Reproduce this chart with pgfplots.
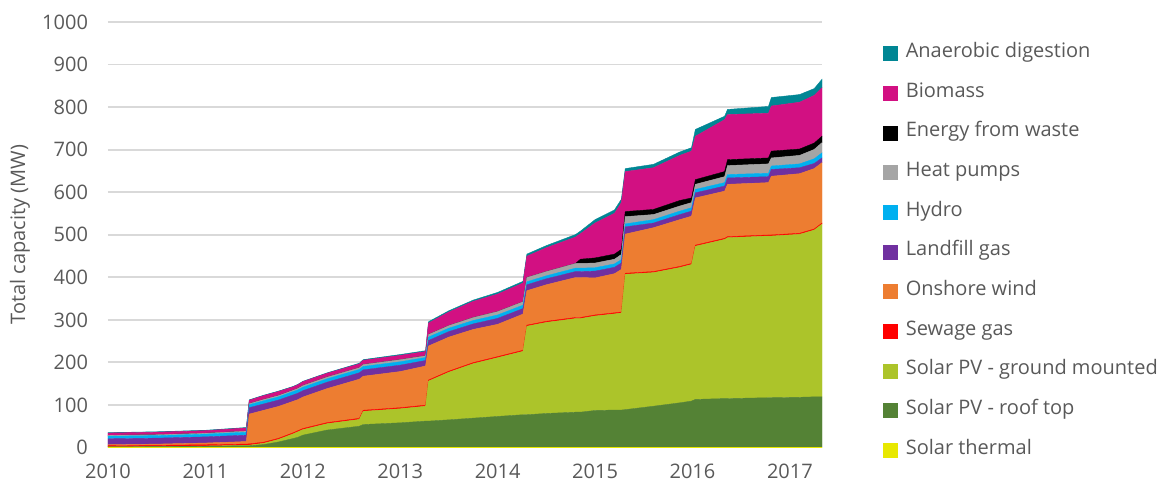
\documentclass[border=0pt]{standalone}
\usepackage{fontspec}
\setmainfont{Open Sans}
\usepackage{pgfplots}
\pgfplotsset{compat=1.18}
\usepackage{pgfplotstable}

\definecolor{cAD}{RGB}{0,134,148}
\definecolor{cBio}{RGB}{210,16,130}
\definecolor{cEfW}{RGB}{0,0,0}
\definecolor{cHeat}{RGB}{165,165,165}
\definecolor{cHydro}{RGB}{0,176,240}
\definecolor{cLand}{RGB}{112,48,160}
\definecolor{cWind}{RGB}{237,125,49}
\definecolor{cSew}{RGB}{255,0,0}
\definecolor{cGround}{RGB}{172,196,42}
\definecolor{cRoof}{RGB}{84,130,53}
\definecolor{cST}{RGB}{232,232,0}
\definecolor{txtgray}{RGB}{89,89,89}
\definecolor{gridgray}{RGB}{217,217,217}

\pgfplotstableread{
t st roof ground sew wind land hydro heat efw bio ad
2010.00 1 0.5 0 3 2 14 6 2 0 5.5 1
2010.50 1 1 0 3 3 14 6 2 0 6 1
2011.00 1 2 0.5 3 4 14.5 6.5 2 0 6 1
2011.42 1 3 1 3 6 15 7 2.5 0 7.5 1
2011.45 1 3 1.5 3 70 15 7 2.5 0 8 1
2011.60 1 6 3 2.5 75 15 7.5 3 0 9 1
2011.75 1 12 6 2.5 75 15 7.5 3 0 9.5 1
2011.90 1 20 11 2.5 74 15 8 3 0 8 1
2011.95 1 23 13 2.5 73 15 8 3.5 0 8.5 1
2012.00 1 28 13 2.5 74 15 8 4 0 9 1
2012.25 1 40 15 2.5 80 15 8 4 0 9 1
2012.58 1 49 16 2.5 92 15 8 4 0 9 1.5
2012.62 1 53 31 2.5 80 15 8 4.5 0 10 1.5
2013.00 1 57 33 2.5 85 15 8 5 0 10 2
2013.26 1 61 35 2.5 92 13 7 4 0 10 2
2013.29 1 61 94 2.5 80 13 8 6 0 27 3
2013.50 1 64 112 2.5 80 13 8 6 0 32 3
2013.75 1 68 128 2.5 78 13 8 7 0 38 3
2014.00 1 72 138 2.5 76 14 8 8 0 41 4
2014.26 1 76 149 2.5 85 13 8 8 0 44 4
2014.30 1 76 208 2.5 81 14 7 10 0 50 5
2014.50 1 79 214 2.5 86 14 7 10 0 56 5
2014.80 1 82 220 2.5 94 14 8 11 0 62 6
2014.85 1 82 220 2.5 94 14 8 11 10 60 6
2015.00 1 86 222 2.5 87 16 8 11 12 82 8
2015.20 1 87 226 2.5 92 15 8 11 12 96 8
2015.27 1 87 228 2.5 100 15 8 12 12 110 8
2015.31 1 88 318 2.5 92 17 7 17 12 94 7
2015.60 1 96 314 2.5 103 11 8 12 12 98 8
2015.87 1 104 318 2.5 110 12 8 12 13 106 8
2015.99 1 108 321 2.5 111 12 8 12 11 110 8
2016.03 1 112 360 2.5 111 12 8 12 11 102 16
2016.33 1 114 374 2.5 111 12 8 14 12 122 8
2016.36 1 114 378 2.5 123 15 8 21 14 106 12
2016.78 1 116 380 2.5 123 14 8 22 14 105 16
2016.81 1 116 380 2.5 138 16 8 19 16 106 20
2017.10 1 117 383 2.5 140 14 9 20 15 110 18
2017.25 1 118 392 2.5 142 12 11 22 15 112 16
2017.33 1 118 406 2.5 142 11 12 24 15 114 20
}\data

\begin{document}
\begin{tikzpicture}
\path[use as bounding box] (-54pt,-19.75pt) rectangle (527pt,223.75pt);
\begin{axis}[
  at={(0,0)}, anchor=south west,
  scale only axis, width=357pt, height=212.75pt,
  xmin=2010, xmax=2017.33, ymin=0, ymax=1000,
  stack plots=y,
  axis line style={draw=none},
  major tick length=0pt,
  ymajorgrids, grid style={color=gridgray, line width=0.9pt},
  xtick={2010,2011,...,2017}, ytick={0,100,...,1000},
  /pgf/number format/1000 sep={},
  /pgf/number format/assume math mode=true,
  tick label style={font=\fontsize{10}{12}\selectfont, text=txtgray},
  yticklabel style={xshift=-6.5pt},
  xticklabel style={yshift=-4.5pt},
  ylabel={Total capacity (MW)},
  every axis y label/.style={at={(axis description cs:-0.1232,0.5)}, rotate=90, anchor=center, font=\fontsize{10}{12}\selectfont, text=txtgray},
  reverse legend,
  legend image code/.code={\fill[#1] (0pt,-3.5pt) rectangle (7pt,3.5pt);},
  legend style={at={(1.0854,0.946)}, anchor=north west, draw=none, fill=none, inner sep=0pt,
     font=\fontsize{10}{12}\selectfont, text=txtgray, row sep=11.85pt,
     nodes={inner sep=0pt, text height=6pt, text depth=2pt},
     /tikz/every odd column/.append style={column sep=4pt}},
  legend cell align=left,
]
\addplot[fill=cST, draw=cST, line width=0.2pt] table[x=t,y=st]{\data} \closedcycle;
\addplot[fill=cRoof, draw=cRoof, line width=0.2pt] table[x=t,y=roof]{\data} \closedcycle;
\addplot[fill=cGround, draw=cGround, line width=0.2pt] table[x=t,y=ground]{\data} \closedcycle;
\addplot[fill=cSew, draw=cSew, line width=0.2pt] table[x=t,y=sew]{\data} \closedcycle;
\addplot[fill=cWind, draw=cWind, line width=0.2pt] table[x=t,y=wind]{\data} \closedcycle;
\addplot[fill=cLand, draw=cLand, line width=0.2pt] table[x=t,y=land]{\data} \closedcycle;
\addplot[fill=cHydro, draw=cHydro, line width=0.2pt] table[x=t,y=hydro]{\data} \closedcycle;
\addplot[fill=cHeat, draw=cHeat, line width=0.2pt] table[x=t,y=heat]{\data} \closedcycle;
\addplot[fill=cEfW, draw=cEfW, line width=0.2pt] table[x=t,y=efw]{\data} \closedcycle;
\addplot[fill=cBio, draw=cBio, line width=0.2pt] table[x=t,y=bio]{\data} \closedcycle;
\addplot[fill=cAD, draw=cAD, line width=0.2pt] table[x=t,y=ad]{\data} \closedcycle;
\legend{Solar thermal, Solar PV - roof top, Solar PV - ground mounted, Sewage gas, Onshore wind, Landfill gas, Hydro, Heat pumps, Energy from waste, Biomass, Anaerobic digestion}
\end{axis}
\end{tikzpicture}
\end{document}
